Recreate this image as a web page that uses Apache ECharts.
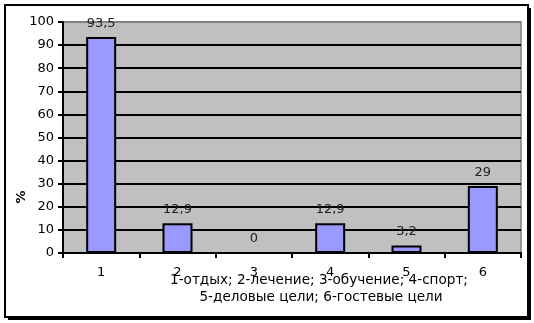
<!DOCTYPE html>
<html><head><meta charset="utf-8">
<script src="https://cdn.jsdelivr.net/npm/echarts@6/dist/echarts.min.js"></script>
<style>html,body{margin:0;padding:0;background:#fff}#c{width:534px;height:323px}</style>
</head><body><div id="c"></div>
<script>
var categories = ['1', '2', '3', '4', '5', '6'];
var values = [93.5, 12.9, 0, 12.9, 3.2, 29];
var yTicks = [0, 10, 20, 30, 40, 50, 60, 70, 80, 90, 100];
var captionLines = ['1-отдых; 2-лечение; 3-обучение; 4-спорт;', '5-деловые цели; 6-гостевые цели'];
var yName = '%';

var font = 'DejaVu Sans';
var chart = echarts.init(document.getElementById('c'), null, {renderer: 'canvas'});
var gridColors = yTicks.map(function (v, i) { return i === yTicks.length - 1 ? '#808080' : '#000'; });
chart.setOption({
  animation: false,
  backgroundColor: '#fff',
  grid: {left: 63, top: 22, right: 13, bottom: 70, show: true, backgroundColor: '#C0C0C0', borderColor: '#808080', borderWidth: 1.5, z: 0},
  xAxis: {
    type: 'category', data: categories, z: 1,
    axisLine: {lineStyle: {color: '#000', width: 2}},
    axisTick: {show: true, length: 5, lineStyle: {color: '#000', width: 2}},
    axisLabel: {color: '#000', fontFamily: font, fontSize: 13, margin: 13}
  },
  yAxis: {
    type: 'value', min: 0, max: 100, interval: 10, z: 1,
    axisLine: {show: true, lineStyle: {color: '#000', width: 2}},
    axisTick: {show: true, length: 5, lineStyle: {color: '#000', width: 2}},
    axisLabel: {color: '#000', fontFamily: font, fontSize: 13, margin: 9},
    splitLine: {show: true, lineStyle: {color: gridColors, width: 2}}
  },
  series: [{
    type: 'bar', data: values, barWidth: 30, z: 2,
    itemStyle: {color: '#9999FF', borderColor: '#000', borderWidth: 2},
    label: {show: true, position: 'top', distance: 7, color: '#222', fontFamily: font, fontSize: 13,
      formatter: function (p) { return String(p.value).replace('.', ','); }}
  }],
  graphic: [
    {type: 'rect', z: -20, silent: true, shape: {x: 8, y: 8, width: 523, height: 312}, style: {fill: '#000'}},
    {type: 'rect', z: -19, silent: true, shape: {x: 5, y: 5, width: 523, height: 312}, style: {fill: '#fff', stroke: '#000', lineWidth: 2}},
    {type: 'text', z: 50, x: 319, y: 280, style: {text: captionLines[0], fill: '#000', font: '13.6px "' + font + '"', textAlign: 'center', textVerticalAlign: 'middle'}},
    {type: 'text', z: 50, x: 321, y: 297, style: {text: captionLines[1], fill: '#000', font: '13.6px "' + font + '"', textAlign: 'center', textVerticalAlign: 'middle'}},
    {type: 'text', z: 50, x: 22, y: 197, rotation: Math.PI / 2, style: {text: yName, fill: '#000', font: 'bold 13px "' + font + '"', textAlign: 'center', textVerticalAlign: 'middle'}}
  ]
});
</script></body></html>
